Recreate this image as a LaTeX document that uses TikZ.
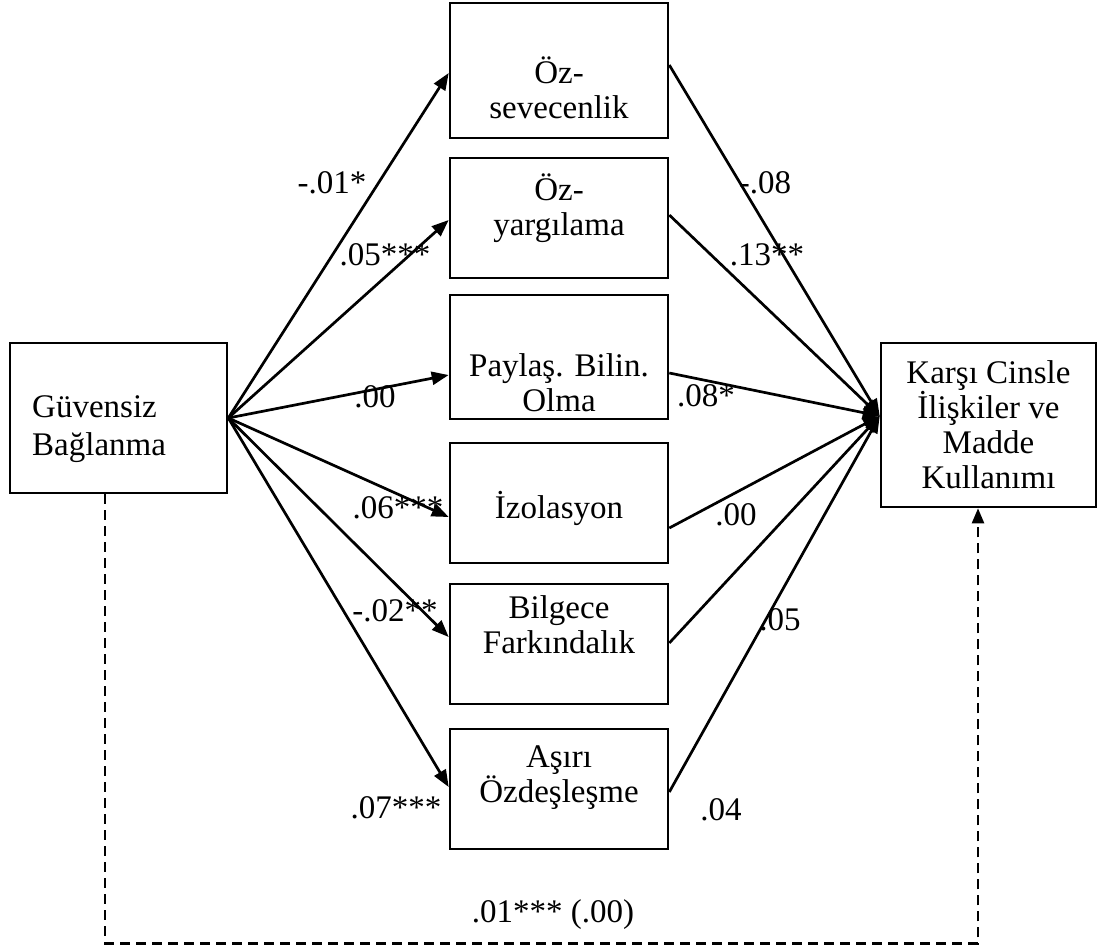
\documentclass[tikz,border=0pt]{standalone}
\usepackage{fontspec}
\setmainfont{Liberation Serif}
\usetikzlibrary{arrows.meta,calc}
\begin{document}
\begin{tikzpicture}[x=1pt,y=-1pt,
  box/.style={draw,line width=2.6pt,inner sep=0pt},
  txt/.style={font=\fontsize{33}{35}\selectfont,align=center,inner sep=0pt},
  lab/.style={font=\fontsize{33}{35}\selectfont,inner sep=0pt},
  arr/.style={line width=2.7pt,-{Triangle[length=17pt,width=13pt]}},
  dsh/.style={line width=2.4pt,dash pattern=on 10pt off 6pt,-{Triangle[length=15pt,width=12pt]}}]
\useasboundingbox (0,0) rectangle (1097,950);

% left box
\node[box,minimum width=217pt,minimum height=150pt] (G) at (118.5,418) {};
\node[txt,align=left,anchor=west] (Gt) at (32,429) {Güvensiz\\[3pt]Bağlanma};

% right box
\node[box,txt,minimum width=215pt,minimum height=164pt] (K) at (988.5,425) {Karşı Cinsle\\İlişkiler ve\\Madde\\Kullanımı};

% mediators
\node[box,minimum width=218pt,minimum height=135pt] (m1) at (559,70.5) {};
\node[box,minimum width=218pt,minimum height=120pt] (m2) at (559,218) {};
\node[box,minimum width=218pt,minimum height=124pt] (m3) at (559,357) {};
\node[box,minimum width=218pt,minimum height=120pt] (m4) at (559,503) {};
\node[box,minimum width=218pt,minimum height=120pt] (m5) at (559,644) {};
\node[box,minimum width=218pt,minimum height=120pt] (m6) at (559,789) {};

\node[txt] (m1t) at (559,88) {Öz-\\sevecenlik};
\node[txt] (m2t) at (559,208) {Öz-\\yargılama};
\node[txt] (m3t) at (559,383) {Paylaş. Bilin.\\Olma};
\node[txt] (m4t) at (559,508) {İzolasyon};
\node[txt] (m5t) at (559,625) {Bilgece\\Farkındalık};
\node[txt] (m6t) at (559,778) {Aşırı\\Özdeşleşme};

% arrows from G
\draw[arr] (G.east) -- ($(m1.west)+(0,2.5)$);
\draw[arr] (G.east) -- ($(m2.west)+(0,2)$);
\draw[arr] (G.east) -- ($(m3.west)+(0,18)$);
\draw[arr] (G.east) -- ($(m4.west)+(0,14)$);
\draw[arr] (G.east) -- ($(m5.west)+(0,-7)$);
\draw[arr] (G.east) -- ($(m6.west)+(0,-2)$);

% arrows to K
\coordinate (c) at ($(K.west)+(0,-9)$);
\draw[arr] ($(m1.east)+(0,-5.5)$) -- (c);
\draw[arr] ($(m2.east)+(0,-3)$) -- (c);
\draw[arr] ($(m3.east)+(0,16)$) -- (c);
\draw[arr] ($(m4.east)+(0,25)$) -- (c);
\draw[arr] ($(m5.east)+(0,-1)$) -- (c);
\draw[arr] ($(m6.east)+(0,3)$) -- (c);

% direct dashed path
\draw[dsh] ($(G.south)+(-13.5,0)$) -- ++(0,449) -| ($(K.south)+(-10.5,0)$);

% labels
\node[lab] (l1) at (332,183) {-.01*};
\node[lab] (r1) at (765,183) {-.08};
\node[lab] (l2) at (385,255) {.05***};
\node[lab] (r2) at (767,255) {.13**};
\node[lab] (l3) at (375,397) {.00};
\node[lab] (r3) at (706,396) {.08*};
\node[lab] (l4) at (398,508) {.06***};
\node[lab] (r4) at (736,515) {.00};
\node[lab] (l5) at (395,611) {-.02**};
\node[lab] (r5) at (780,620) {.05};
\node[lab] (l6) at (396,808) {.07***};
\node[lab] (r6) at (721,810) {.04};
\node[lab] (d) at (553,915) {.01*** (.00)};
\end{tikzpicture}
\end{document}
